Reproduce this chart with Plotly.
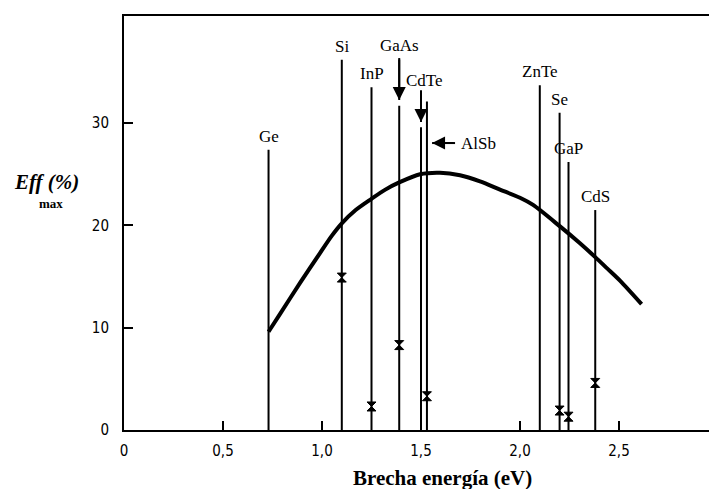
import plotly.graph_objects as go

# ---- data ----
materials = ["Ge", "Si", "InP", "GaAs", "CdTe", "AlSb", "ZnTe", "Se", "GaP", "CdS"]
band_gaps = [0.73, 1.10, 1.25, 1.39, 1.50, 1.53, 2.10, 2.20, 2.245, 2.38]
line_tops = [27.4, 36.2, 33.5, 31.7, 29.6, 32.1, 33.7, 31.0, 26.2, 21.5]
measured_eff = [None, 14.9, 2.3, 8.3, None, 3.3, None, 1.9, 1.3, 4.6]

curve_eg = [0.73, 0.79, 0.89, 0.99, 1.05, 1.10, 1.17, 1.25, 1.32, 1.39, 1.495,
            1.596, 1.697, 1.798, 1.899, 2.00, 2.066, 2.202, 2.30, 2.38, 2.44,
            2.505, 2.614]
curve_eff = [9.6, 11.4, 14.4, 17.3, 19.0, 20.2, 21.5, 22.6, 23.5, 24.2, 25.0,
             25.15, 24.9, 24.3, 23.5, 22.7, 22.0, 19.9, 18.3, 16.9, 15.8,
             14.6, 12.3]

x_tickvals = [0, 0.5, 1.0, 1.5, 2.0, 2.5]
x_ticktext = ["0", "0,5", "1,0", "1,5", "2,0", "2,5"]
y_tickvals = [0, 10, 20, 30]
y_ticktext = ["0", "10", "20", "30"]

# ---- figure ----
W, H = 709, 489
ML, MR, MT, MB = 124, 0, 16, 59
PX_PER_EV = 198.0
PX_PER_PCT = 10.23
PW, PH = W - ML - MR, H - MT - MB
x_max = PW / PX_PER_EV
y_max = PH / PX_PER_PCT

fig = go.Figure()

for name, g, top in zip(materials, band_gaps, line_tops):
    fig.add_trace(go.Scatter(x=[g, g], y=[0, top], mode="lines",
                             line=dict(color="black", width=2),
                             hoverinfo="skip", showlegend=False))

fig.add_trace(go.Scatter(x=curve_eg, y=curve_eff, mode="lines",
                         line=dict(color="black", width=4, shape="spline", smoothing=0.8),
                         showlegend=False))

mx = [g for g, v in zip(band_gaps, measured_eff) if v is not None]
my = [v for v in measured_eff if v is not None]
fig.add_trace(go.Scatter(x=mx, y=my, mode="markers",
                         marker=dict(symbol="hourglass", size=9, color="black",
                                     line=dict(color="black", width=1)),
                         showlegend=False))

serif = "Liberation Serif, Times New Roman, serif"
label_font = dict(family=serif, size=17, color="black")


def arrow(x0, y0, x1, y1):
    # shaft from (x0, y0) to tip (x1, y1)
    fig.add_shape(type="line", x0=x0, y0=y0, x1=x1, y1=y1, xref="x", yref="y",
                  line=dict(color="black", width=2))
    fig.add_annotation(x=x1, y=y1, ax=x0, ay=y0, axref="x", ayref="y",
                       xref="x", yref="y", text="", showarrow=True, arrowhead=2,
                       arrowsize=1.3, arrowwidth=2, arrowcolor="black")


arrow_labels = {"GaAs": (5.9, 4.1, 0.56, 0.0), "CdTe": (4.6, 3.1, 0.5, 0.017)}
for name, g, top in zip(materials, band_gaps, line_tops):
    if name in arrow_labels:
        lab_off, tail_off, tip_off, dx = arrow_labels[name]
        arrow(g, top + tip_off + tail_off, g, top + tip_off)
        fig.add_annotation(x=g + dx, y=top + lab_off, xref="x", yref="y", text=name,
                           showarrow=False, font=label_font, yanchor="middle",
                           xanchor="center")
    elif name == "AlSb":
        ya = top - 4.05
        arrow(g + 0.142, ya, g + 0.026, ya)
        fig.add_annotation(x=g + 0.162, y=ya, xref="x", yref="y", text=name,
                           showarrow=False, font=label_font, xanchor="left",
                           yanchor="middle")
    else:
        fig.add_annotation(x=g, y=top, xref="x", yref="y", text=name,
                           showarrow=False, font=label_font, yanchor="bottom",
                           xanchor="center", yshift=2)

# axis titles
fig.add_annotation(x=(46 - ML) / PW, y=(H - MB - 182) / PH,
                   xref="paper", yref="paper", text="<b><i>Eff (%)</i></b>",
                   showarrow=False, xanchor="center", yanchor="middle",
                   font=dict(family=serif, size=21, color="black"))
fig.add_annotation(x=(51 - ML) / PW, y=(H - MB - 203) / PH,
                   xref="paper", yref="paper", text="<b>max</b>", showarrow=False,
                   xanchor="center", yanchor="middle",
                   font=dict(family=serif, size=13, color="black"))
fig.add_annotation(x=(443 - ML) / PW, y=-(478 - (H - MB)) / PH,
                   xref="paper", yref="paper", text="<b>Brecha energía (eV)</b>",
                   showarrow=False, xanchor="center", yanchor="middle",
                   font=dict(family=serif, size=21, color="black"))

tick_font = dict(family="Liberation Sans Narrow, DejaVu Sans Condensed, Arial Narrow, sans-serif",
                 size=15, color="black")

fig.update_xaxes(range=[0, x_max], showline=True, linecolor="black", linewidth=2,
                 mirror=True, ticks="inside", ticklen=9, tickwidth=2, tickcolor="black",
                 tickvals=x_tickvals, ticktext=x_ticktext, showgrid=False,
                 zeroline=False, tickfont=tick_font, ticklabelstandoff=6)
fig.update_yaxes(range=[0, y_max], showline=True, linecolor="black", linewidth=2,
                 mirror=False, ticks="inside", ticklen=9, tickwidth=2, tickcolor="black",
                 tickvals=y_tickvals, ticktext=y_ticktext, showgrid=False,
                 zeroline=False, tickfont=tick_font, ticklabelstandoff=10)

fig.update_layout(width=W, height=H, margin=dict(l=ML, r=MR, t=MT, b=MB),
                  plot_bgcolor="white", paper_bgcolor="white", showlegend=False)

fig.write_html("out.html")
